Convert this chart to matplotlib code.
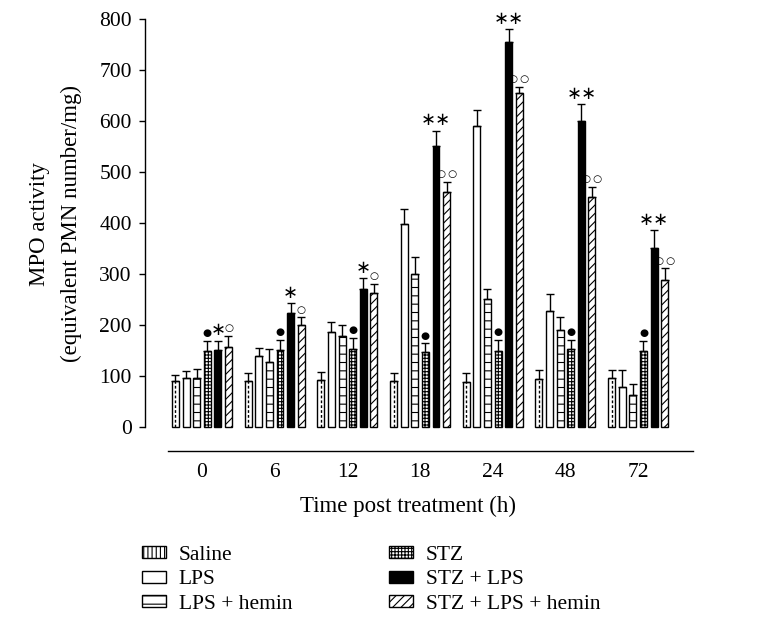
import matplotlib
matplotlib.use("Agg")
import matplotlib.pyplot as plt
from matplotlib.patches import Patch
import numpy as np

plt.rcParams['font.family'] = ['Liberation Serif', 'DejaVu Serif']
plt.rcParams['hatch.linewidth'] = 0.8

groups = ['0', '6', '12', '18', '24', '48', '72']
series = ['Saline', 'LPS', 'LPS + hemin', 'STZ', 'STZ + LPS', 'STZ + LPS + hemin']

saline = [90, 90, 92, 90, 88, 94, 95]
saline_err = [12, 15, 15, 15, 17, 17, 17]
lps = [95, 139, 186, 399, 590, 227, 78]
lps_err = [15, 15, 19, 28, 31, 33, 34]
lps_hemin = [95, 127, 178, 300, 251, 190, 63]
lps_hemin_err = [18, 25, 21, 33, 19, 25, 21]
stz = [149, 150, 152, 147, 149, 153, 149]
stz_err = [20, 20, 22, 17, 22, 18, 20]
stz_lps = [151, 224, 271, 551, 755, 600, 350]
stz_lps_err = [18, 19, 21, 30, 25, 33, 36]
stz_lps_hemin = [157, 199, 262, 461, 655, 452, 288]
stz_lps_hemin_err = [21, 16, 18, 20, 12, 19, 23]

# significance marks above STZ, STZ+LPS, STZ+LPS+hemin
mark_stz = ['●', '●', '●', '●', '●', '●', '●']
mark_stz_lps = ['∗', '∗', '∗', '∗∗', '∗∗', '∗∗', '∗∗']
mark_hemin = ['○', '○', '○', '○\u2009○', '○\u2009○', '○\u2009○', '○\u2009○']

values = [saline, lps, lps_hemin, stz, stz_lps, stz_lps_hemin]
errors = [saline_err, lps_err, lps_hemin_err, stz_err, stz_lps_err, stz_lps_hemin_err]
faces = ['white', 'white', 'white', 'white', 'black', 'white']
hatches = [None, None, '--', '+++++', None, '////']

W, H = 776, 626
fig = plt.figure(figsize=(W / 100, H / 100), dpi=100)
ax_left, ax_right, ax_top, ax_bot = 145, 693, 19.3, 451
ax = fig.add_axes([ax_left / W, (H - ax_bot) / H, (ax_right - ax_left) / W, (ax_bot - ax_top) / H])

x = np.arange(len(groups))
pitch = 0.1458
width = 0.096
for i, (vals, errs) in enumerate(zip(values, errors)):
    xs = x + (i - 2.5) * pitch
    ax.bar(xs, vals, width, color=faces[i], edgecolor='black', linewidth=1.0,
           hatch=hatches[i], zorder=2)
    ax.errorbar(xs, vals, yerr=[np.zeros(len(vals)), errs], fmt='none',
                ecolor='black', elinewidth=1.0, capsize=2.8, capthick=1.0, zorder=3)
    if i == 0:
        ax.vlines(xs, 0, vals, colors='black', linewidth=1.0,
                  linestyles=(0, (2, 1.5)), zorder=3)

def annotate(idx, marks, size, dy):
    xs = x + (idx - 2.5) * pitch
    tops = np.array(values[idx]) + np.array(errors[idx])
    for xi, top, m in zip(xs, tops, marks):
        ax.annotate(m, xy=(xi, top), xytext=(0, dy), textcoords='offset points',
                    ha='center', va='center', fontsize=size,
                    family=['DejaVu Sans'])

annotate(3, mark_stz, 7.5, 5.5)
annotate(4, mark_stz_lps, 13, 7.5)
annotate(5, mark_hemin, 7.5, 5.5)

ax.set_xlim(-0.784, 6.754)
ax.set_ylim(-47.7, 800)
ax.set_yticks(np.arange(0, 801, 100))
ax.set_xticks(x)
ax.set_xticklabels(groups)
ax.tick_params(axis='y', direction='out', length=4, width=1, pad=5.5, labelsize=15.5)
ax.tick_params(axis='x', length=0, pad=8.5, labelsize=15.5)
ax.spines['top'].set_visible(False)
ax.spines['right'].set_visible(False)
ax.spines['left'].set_bounds(0, 800)
ax.spines['bottom'].set_bounds(-0.468, 6.754)
for s in ('left', 'bottom'):
    ax.spines[s].set_linewidth(1.0)

fig.text(408 / W, 1 - 506 / H, 'Time post treatment (h)', ha='center', va='center', fontsize=16.5)
fig.text(40 / W, 1 - 224 / H, 'MPO activity', ha='center', va='center', rotation=90, fontsize=16.5)
fig.text(71 / W, 1 - 224 / H, '(equivalent PMN number/mg)', ha='center', va='center', rotation=90, fontsize=16.5)

handles = []
leg_hatch = ['||||', None, '--', '+++++', None, '////']
for i, name in enumerate(series):
    handles.append(Patch(facecolor=faces[i], edgecolor='black', linewidth=1.0,
                         hatch=leg_hatch[i], label=name))
fig.legend(handles=handles, loc='upper left', bbox_to_anchor=(142 / W, 1 - 546 / H),
           ncol=2, frameon=False, fontsize=15.5, handlelength=1.1, handleheight=0.5,
           handletextpad=0.6, columnspacing=4.5, labelspacing=0.25, borderpad=0,
           borderaxespad=0)

fig.savefig('out.png', dpi=100)
